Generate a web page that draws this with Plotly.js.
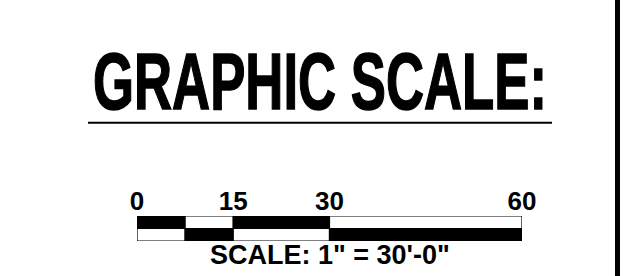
<!DOCTYPE html>
<html>
<head>
<meta charset="utf-8">
<script src="https://cdn.plot.ly/plotly-3.0.1.min.js"></script>
<style>
  html, body { margin: 0; padding: 0; background: #fff; }
  #chart { width: 624px; height: 276px; }
</style>
</head>
<body>
<div id="chart"></div>
<script>
// ---- data ----
const segStart = [0, 7.5, 15, 30];
const segEnd = [7.5, 15, 30, 60];
const topRowColors = ['#000000', '#ffffff', '#000000', '#ffffff'];
const bottomRowColors = ['#ffffff', '#000000', '#ffffff', '#000000'];
const tickValues = [0, 15, 30, 60];
const tickLabels = ['0', '15', '30', '60'];
const titleText = 'GRAPHIC SCALE:';
const scaleText = 'SCALE: 1" = 30\'-0"';

const segWidth = segStart.map((s, i) => segEnd[i] - s);

function rowTrace(yVal, colors) {
  return {
    type: 'bar',
    orientation: 'h',
    base: segStart,
    x: segWidth,
    y: segStart.map(() => yVal),
    width: 1,
    marker: { color: colors, line: { color: '#000', width: 1.2 } },
    hoverinfo: 'skip',
    showlegend: false
  };
}

const data = [rowTrace(1, topRowColors), rowTrace(0, bottomRowColors)];

const boldFont = { family: 'Arial, "Liberation Sans", sans-serif', weight: 'bold', color: '#000' };

const layout = {
  width: 624,
  height: 276,
  margin: { l: 137, r: 102, t: 216, b: 35, pad: 0 },
  paper_bgcolor: '#fff',
  plot_bgcolor: '#fff',
  barmode: 'overlay',
  bargap: 0,
  showlegend: false,
  title: {
    text: titleText,
    font: { family: '"Liberation Sans Narrow", "Arial Narrow", Arial, sans-serif', weight: 'bold', size: 80, color: '#000' },
    x: 320 / 624,
    xref: 'container',
    xanchor: 'center',
    y: 1 - 81.5 / 276,
    yref: 'container',
    yanchor: 'middle'
  },
  xaxis: {
    range: [0, 60],
    side: 'top',
    tickmode: 'array',
    tickvals: tickValues,
    ticktext: tickLabels,
    tickfont: Object.assign({ size: 26 }, boldFont),
    ticks: '',
    showgrid: false,
    zeroline: false,
    showline: false,
    fixedrange: true
  },
  yaxis: {
    range: [-0.5, 1.5],
    visible: false,
    fixedrange: true
  },
  annotations: [
    {
      text: scaleText,
      xref: 'x', x: 30,
      yref: 'paper', y: 0,
      yanchor: 'top',
      yshift: 3,
      showarrow: false,
      font: Object.assign({ size: 27 }, boldFont)
    }
  ],
  shapes: [
    { type: 'line', xref: 'paper', yref: 'paper',
      x0: (88 - 137) / 385, x1: (552 - 137) / 385,
      y0: (241 - 122.7) / 25, y1: (241 - 122.7) / 25,
      line: { color: '#000', width: 2 } },
    { type: 'rect', xref: 'paper', yref: 'paper',
      x0: (615 - 137) / 385, x1: (620 - 137) / 385,
      y0: (241 - 280) / 25, y1: (241 + 4) / 25,
      fillcolor: '#000', line: { width: 0 } }
  ]
};

Plotly.newPlot('chart', data, layout, { staticPlot: true, displayModeBar: false }).then(() => {
  document.querySelectorAll('.gtitle').forEach(t => {
    t.style.transformBox = 'fill-box';
    t.style.transformOrigin = 'center';
    t.style.stroke = '#000';
    t.style.strokeWidth = '1.5px';
    t.style.strokeLinejoin = 'miter';
    const w = t.getBBox().width;
    if (w > 0) t.style.transform = 'scaleX(' + (454 / w) + ')';
  });
});
</script>
</body>
</html>
